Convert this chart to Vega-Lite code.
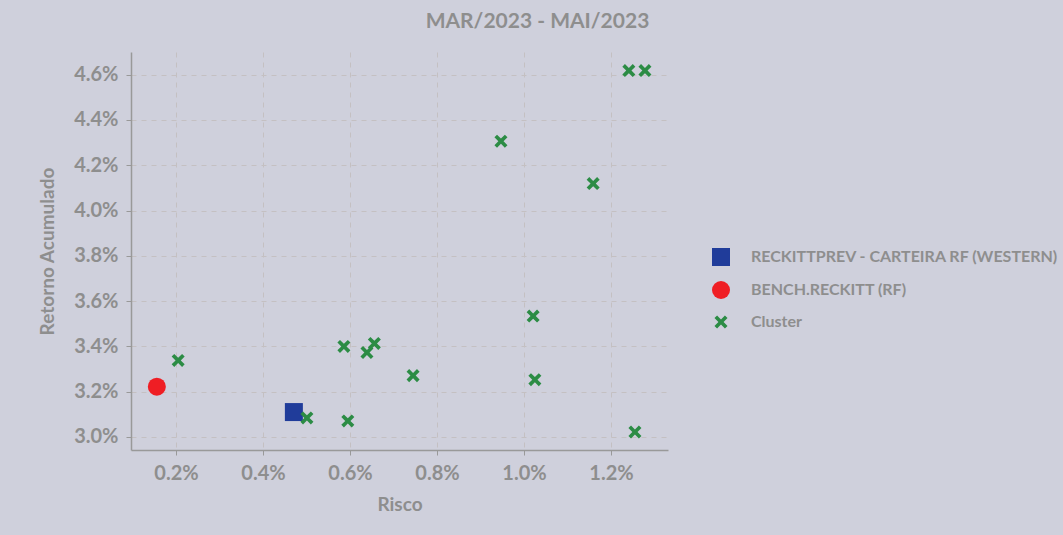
{
  "$schema": "https://vega.github.io/schema/vega-lite/v6.json",
  "width": 537,
  "height": 398,
  "autosize": {"type": "none"},
  "padding": {"left": 131, "top": 52, "right": 395, "bottom": 85},
  "background": "#cfd0dc",
  "title": {
    "text": "MAR/2023 - MAI/2023",
    "font": "Lato",
    "fontSize": 21,
    "fontWeight": "bold",
    "color": "#8e8e8e",
    "anchor": "middle",
    "frame": "group",
    "dx": 138,
    "offset": 20
  },
  "data": {
    "values": [
      {"serie": "RECKITTPREV - CARTEIRA RF (WESTERN)", "risco": 0.00471, "retorno": 0.03110},
      {"serie": "BENCH.RECKITT (RF)", "risco": 0.00156, "retorno": 0.03222},
      {"serie": "Cluster", "risco": 0.00205, "retorno": 0.03338},
      {"serie": "Cluster", "risco": 0.00501, "retorno": 0.03084},
      {"serie": "Cluster", "risco": 0.00586, "retorno": 0.03400},
      {"serie": "Cluster", "risco": 0.00595, "retorno": 0.03071},
      {"serie": "Cluster", "risco": 0.00639, "retorno": 0.03373},
      {"serie": "Cluster", "risco": 0.00656, "retorno": 0.03413},
      {"serie": "Cluster", "risco": 0.00745, "retorno": 0.03271},
      {"serie": "Cluster", "risco": 0.00947, "retorno": 0.04306},
      {"serie": "Cluster", "risco": 0.01021, "retorno": 0.03534},
      {"serie": "Cluster", "risco": 0.01025, "retorno": 0.03253},
      {"serie": "Cluster", "risco": 0.01159, "retorno": 0.04119},
      {"serie": "Cluster", "risco": 0.01241, "retorno": 0.04618},
      {"serie": "Cluster", "risco": 0.01278, "retorno": 0.04618},
      {"serie": "Cluster", "risco": 0.01255, "retorno": 0.03022}
    ]
  },
  "mark": {"type": "point", "filled": true, "opacity": 1},
  "encoding": {
    "x": {
      "field": "risco",
      "type": "quantitative",
      "title": "Risco",
      "scale": {"domain": [0.000966, 0.01331], "nice": false, "zero": false},
      "axis": {
        "values": [0.002, 0.004, 0.006, 0.008, 0.010, 0.012],
        "format": ".1%",
        "titlePadding": 12
      }
    },
    "y": {
      "field": "retorno",
      "type": "quantitative",
      "title": "Retorno Acumulado",
      "scale": {"domain": [0.029425, 0.0470], "nice": false, "zero": false},
      "axis": {
        "values": [0.030, 0.032, 0.034, 0.036, 0.038, 0.040, 0.042, 0.044, 0.046],
        "format": ".1%",
        "titlePadding": 16
      }
    },
    "color": {
      "field": "serie",
      "type": "nominal",
      "scale": {
        "domain": ["RECKITTPREV - CARTEIRA RF (WESTERN)", "BENCH.RECKITT (RF)", "Cluster"],
        "range": ["#203c9a", "#ef1e24", "#2c8c45"]
      },
      "legend": {
        "title": null,
        "orient": "none",
        "legendX": 581,
        "legendY": 196
      }
    },
    "shape": {
      "field": "serie",
      "type": "nominal",
      "scale": {
        "domain": ["RECKITTPREV - CARTEIRA RF (WESTERN)", "BENCH.RECKITT (RF)", "Cluster"],
        "range": ["square", "circle", "M-1,-0.6L-0.6,-1L0,-0.4L0.6,-1L1,-0.6L0.4,0L1,0.6L0.6,1L0,0.4L-0.6,1L-1,0.6L-0.4,0Z"]
      }
    },
    "size": {
      "field": "serie",
      "type": "nominal",
      "scale": {
        "type": "ordinal",
        "domain": ["RECKITTPREV - CARTEIRA RF (WESTERN)", "BENCH.RECKITT (RF)", "Cluster"],
        "range": [324, 324, 170]
      }
    }
  },
  "config": {
    "view": {"stroke": null},
    "font": "Lato",
    "axis": {
      "labelFont": "Lato",
      "labelFontSize": 20,
      "labelFontWeight": "bold",
      "labelColor": "#8e8e8e",
      "titleFont": "Lato",
      "titleFontSize": 19,
      "titleFontWeight": "bold",
      "titleColor": "#8e8e8e",
      "domainColor": "#999999",
      "domainWidth": 1.5,
      "tickColor": "#999999",
      "tickSize": 5,
      "labelPadding": 8,
      "grid": true,
      "gridColor": "#c4c0c2",
      "gridDash": [5, 5],
      "gridWidth": 1
    },
    "legend": {
      "labelFont": "Lato",
      "labelFontSize": 16,
      "labelFontWeight": "bold",
      "labelColor": "#8e8e8e",
      "labelOffset": 21,
      "rowPadding": 15,
      "symbolOpacity": 1,
      "symbolStrokeWidth": 0,
      "labelLimit": 400
    }
  }
}
